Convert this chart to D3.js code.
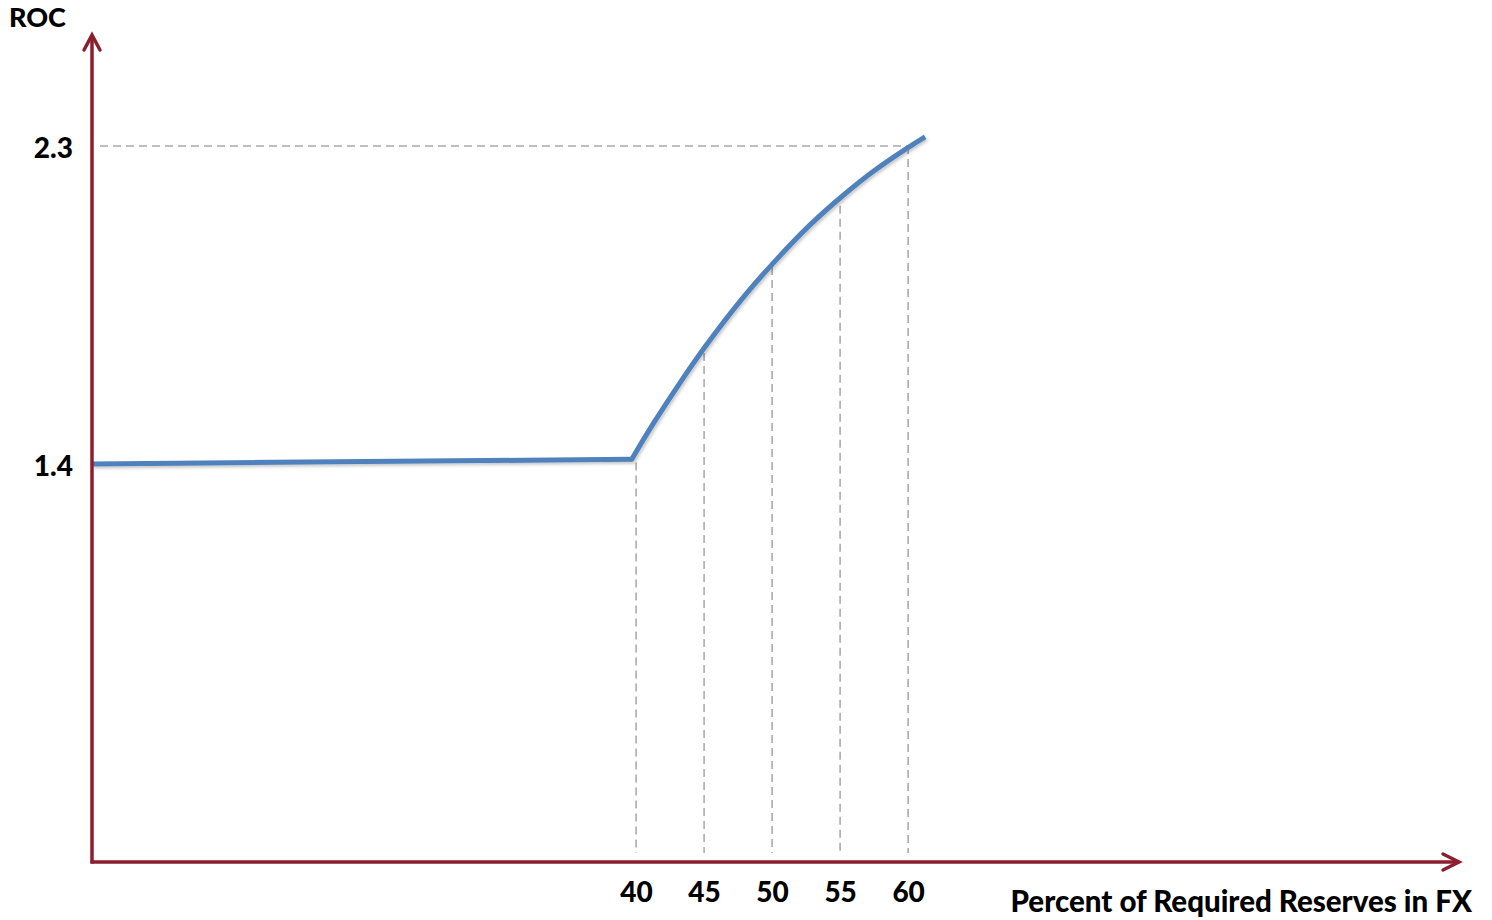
<!DOCTYPE html>
<html>
<head>
<meta charset="utf-8">
<script src="https://cdn.jsdelivr.net/npm/d3@7"></script>
<style>
  html, body { margin: 0; padding: 0; background: #fff; }
  svg text { font-family: Lato, "Open Sans", sans-serif; font-weight: 900; fill: #000; }
</style>
</head>
<body>
<svg id="chart" width="1492" height="920"></svg>
<script>
// ---- data ----
// flat segment, then rising ROC curve (x = % of required reserves in FX)
const xValues = [0, 39.68, 41.25, 43.24, 45.22, 47.79, 50.37, 52.79, 55.15, 57.50, 59.85, 61.25];
const rocValues = [1.401, 1.414, 1.514, 1.631, 1.740, 1.868, 1.981, 2.077, 2.158, 2.230, 2.292, 2.326];
const xTickValues = [40, 45, 50, 55, 60];
const xTickLabels = ["40", "45", "50", "55", "60"];
const guideTops = [1.405, 1.715, 1.958, 2.131, 2.30];   // where dashed guides start
const yTickValues = [1.4, 2.3];
const yTickLabels = ["1.4", "2.3"];
const yTitle = "ROC";
const xTitle = "Percent of Required Reserves in FX";

const points = xValues.map((x, i) => ({ x, y: rocValues[i] }));

const svg = d3.select("#chart");
const axisColor = "#8B1E2F";
const lineColor = "#4F81BD";
const dashColor = "#ABABAB";

const x = d3.scaleLinear().domain([0, 100.5]).range([92, 1459]);
const y = d3.scaleLinear().domain([0.275, 2.6]).range([862, 40]);

const defs = svg.append("defs");
const f = defs.append("filter").attr("id", "shadow").attr("x", "-5%").attr("y", "-5%").attr("width", "110%").attr("height", "120%");
f.append("feDropShadow").attr("dx", 1.5).attr("dy", 2).attr("stdDeviation", 1.5).attr("flood-color", "#000").attr("flood-opacity", 0.22);

// dashed guide lines
const xDomainMin = x.domain()[0];
const yBase = y.domain()[0];
xTickValues.forEach((v, i) => {
  svg.append("line")
    .attr("x1", x(v)).attr("x2", x(v))
    .attr("y1", y(guideTops[i])).attr("y2", y(yBase) - 9)
    .attr("stroke", dashColor).attr("stroke-width", 1.6)
    .attr("stroke-dasharray", "8,5");
});
svg.append("line")
  .attr("x1", x(xDomainMin) + 8).attr("x2", x(60))
  .attr("y1", y(2.3)).attr("y2", y(2.3))
  .attr("stroke", dashColor).attr("stroke-width", 1.6)
  .attr("stroke-dasharray", "8,5");

// curve: straight flat part, then a smooth concave rise
const flat = d3.line().x(d => x(d.x)).y(d => y(d.y));
const rise = d3.line().x(d => x(d.x)).y(d => y(d.y)).curve(d3.curveNatural);
const g = svg.append("g").attr("filter", "url(#shadow)");
g.append("path")
  .datum(points.slice(0, 2))
  .attr("d", flat)
  .attr("fill", "none").attr("stroke", lineColor).attr("stroke-width", 5);
g.append("path")
  .datum(points.slice(1))
  .attr("d", rise)
  .attr("fill", "none").attr("stroke", lineColor).attr("stroke-width", 5);
g.append("circle").attr("cx", x(points[1].x)).attr("cy", y(points[1].y)).attr("r", 2.5).attr("fill", lineColor);

// axes lines with arrows
const x0 = x(xDomainMin), y0 = y(yBase);
const yTop = y(y.domain()[1]) - 5;
const xEnd = x(x.domain()[1]);
svg.append("line").attr("x1", x0).attr("x2", x0).attr("y1", y0 + 1.5).attr("y2", yTop)
  .attr("stroke", axisColor).attr("stroke-width", 3.5);
svg.append("path").attr("d", `M${x0 - 8},${yTop + 15} L${x0},${yTop} L${x0 + 8},${yTop + 15}`)
  .attr("fill", "none").attr("stroke", axisColor).attr("stroke-width", 3.5).attr("stroke-linecap", "round");
svg.append("line").attr("x1", x0 - 1.5).attr("x2", xEnd).attr("y1", y0).attr("y2", y0)
  .attr("stroke", axisColor).attr("stroke-width", 3.5);
svg.append("path").attr("d", `M${xEnd - 16},${y0 - 8} L${xEnd},${y0} L${xEnd - 16},${y0 + 8}`)
  .attr("fill", "none").attr("stroke", axisColor).attr("stroke-width", 3.5).attr("stroke-linecap", "round");

// tick labels via axes
const xAxis = d3.axisBottom(x).tickValues(xTickValues)
  .tickFormat((d, i) => xTickLabels[i]).tickSize(0).tickPadding(0);
const gx = svg.append("g").attr("transform", `translate(0,${y0 + 20})`).call(xAxis);
gx.select(".domain").remove();
gx.selectAll("text").attr("font-size", 28).attr("dy", "0.71em").attr("font-family", null).attr("fill", "#000");

const yAxis = d3.axisLeft(y).tickValues(yTickValues)
  .tickFormat((d, i) => yTickLabels[i]).tickSize(0).tickPadding(0);
const gy = svg.append("g").attr("transform", `translate(${x0 - 19},1)`).call(yAxis);
gy.select(".domain").remove();
gy.selectAll("text").attr("font-size", 28).attr("dy", "0.36em").attr("font-family", null).attr("fill", "#000");

// titles
svg.append("text").attr("x", 9).attr("y", 27).attr("font-size", 27).text(yTitle);
svg.append("text").attr("x", 1472).attr("y", 912).attr("text-anchor", "end").attr("font-size", 29.5).text(xTitle);
</script>
</body>
</html>
